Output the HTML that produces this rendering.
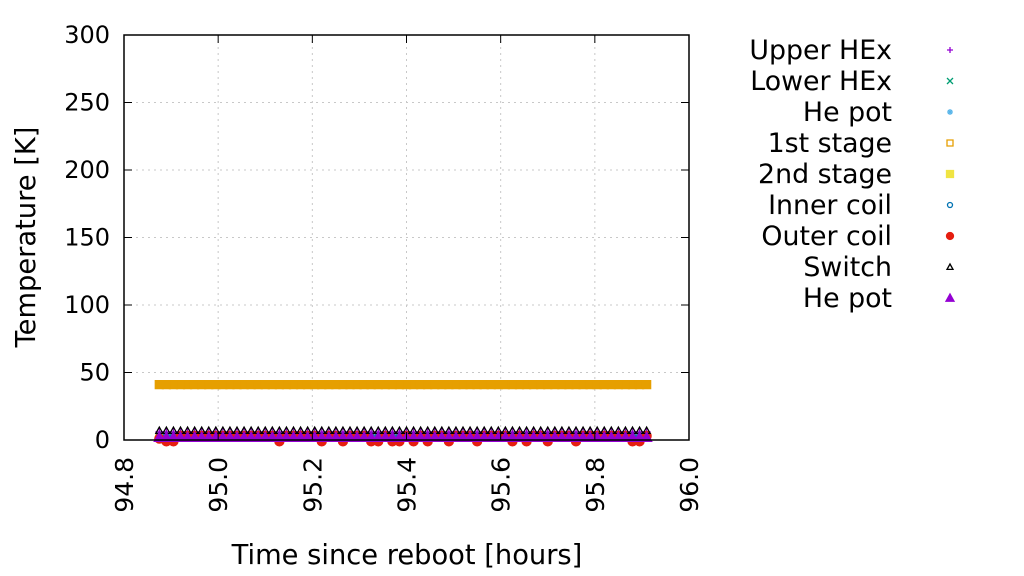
<!DOCTYPE html>
<html><head><meta charset="utf-8"><style>
html,body{margin:0;padding:0;background:#fff;}
svg{display:block;font-family:"DejaVu Sans","Liberation Sans",sans-serif;}
</style></head><body>
<svg id="chart" width="1024" height="576" viewBox="0 0 1024 576"></svg>
<script>
const xTicks=[94.8,95.0,95.2,95.4,95.6,95.8,96.0];
const xTickLabels=["94.8","95.0","95.2","95.4","95.6","95.8","96.0"];
const yTicks=[0,50,100,150,200,250,300];
const yTickLabels=["0","50","100","150","200","250","300"];
const times=[94.875,94.89,94.905,94.92,94.935,94.95,94.965,94.98,94.995,95.01,95.025,95.04,95.055,95.07,95.085,95.1,95.115,95.13,95.145,95.16,95.175,95.19,95.205,95.22,95.235,95.25,95.265,95.28,95.295,95.31,95.325,95.34,95.355,95.37,95.385,95.4,95.415,95.43,95.445,95.46,95.475,95.49,95.505,95.52,95.535,95.55,95.565,95.58,95.595,95.61,95.625,95.64,95.655,95.67,95.685,95.7,95.715,95.73,95.745,95.76,95.775,95.79,95.805,95.82,95.835,95.85,95.865,95.88,95.895,95.91];
const upperHEx=[6,6,6,6,6,6,6,6,6,6,6,6,6,6,6,6,6,6,6,6,6,6,6,6,6,6,6,6,6,6,6,6,6,6,6,6,6,6,6,6,6,6,6,6,6,6,6,6,6,6,6,6,6,6,6,6,6,6,6,6,6,6,6,6,6,6,6,6,6,6];
const lowerHEx=[3,3,3,3,3,3,3,3,3,3,3,3,3,3,3,3,3,3,3,3,3,3,3,3,3,3,3,3,3,3,3,3,3,3,3,3,3,3,3,3,3,3,3,3,3,3,3,3,3,3,3,3,3,3,3,3,3,3,3,3,3,3,3,3,3,3,3,3,3,3];
const stage1=[41,41,41,41,41,41,41,41,41,41,41,41,41,41,41,41,41,41,41,41,41,41,41,41,41,41,41,41,41,41,41,41,41,41,41,41,41,41,41,41,41,41,41,41,41,41,41,41,41,41,41,41,41,41,41,41,41,41,41,41,41,41,41,41,41,41,41,41,41,41];
const outerCoil=[1,-1,-1,3,3,3,3,3,3,3,3,3,3,3,3,3,3,-1,3,3,3,3,3,-1,3,3,-1,3,3,3,-1,-1,3,-1,-1,3,-1,3,-1,3,3,-1,3,3,3,-1,3,3,3,3,-1,3,-1,3,3,-1,3,3,3,-1,3,3,3,3,3,3,3,-1,-1,3];
const switchT=[7,7,7,7,7,7,7,7,7,7,7,7,7,7,7,7,7,7,7,7,7,7,7,7,7,7,7,7,7,7,7,7,7,7,7,7,7,7,7,7,7,7,7,7,7,7,7,7,7,7,7,7,7,7,7,7,7,7,7,7,7,7,7,7,7,7,7,7,7,7];
const hePot2=[2,2,2,2,2,2,2,2,2,2,2,2,2,2,2,2,2,2,2,2,2,2,2,2,2,2,2,2,2,2,2,2,2,2,2,2,2,2,2,2,2,2,2,2,2,2,2,2,2,2,2,2,2,2,2,2,2,2,2,2,2,2,2,2,2,2,2,2,2,2];

const NS="http://www.w3.org/2000/svg";
const svg=document.getElementById('chart');
const L=124,R=689,T=35,B=440;
const xs=v=>L+(v-94.8)/(96.0-94.8)*(R-L);
const ys=v=>B-(v-0)/(300-0)*(B-T);
function mk(tag,attrs,parent){const e=document.createElementNS(NS,tag);for(const k in attrs)e.setAttribute(k,attrs[k]);(parent||svg).appendChild(e);return e;}

const grid=mk('g',{});


xTicks.forEach((t,i)=>{if(i>0&&i<xTicks.length-1)mk('line',{x1:xs(t),x2:xs(t),y1:T,y2:B,stroke:'#c8c8c8','stroke-dasharray':'2,4','stroke-width':1},grid);});
yTicks.forEach((t,i)=>{if(i>0&&i<yTicks.length-1)mk('line',{x1:L,x2:R,y1:ys(t),y2:ys(t),stroke:'#c8c8c8','stroke-dasharray':'2,4','stroke-width':1},grid);});

function markerPath(shape,x,y,s){
  switch(shape){
    case 'plus':return `M${x-s},${y}H${x+s}M${x},${y-s}V${y+s}`;
    case 'cross':return `M${x-s},${y-s}L${x+s},${y+s}M${x-s},${y+s}L${x+s},${y-s}`;
    case 'star':return `M${x-s},${y}H${x+s}M${x},${y-s}V${y+s}M${x-s*.7},${y-s*.7}L${x+s*.7},${y+s*.7}M${x-s*.7},${y+s*.7}L${x+s*.7},${y-s*.7}`;
    case 'box':return `M${x-s},${y-s}H${x+s}V${y+s}H${x-s}Z`;
    case 'tri':return `M${x},${y-s}L${x+s},${y+s*.8}L${x-s},${y+s*.8}Z`;
  }
}
function drawMarker(g,shape,x,y,s,color,fill){
  if(shape==='circle')return mk('circle',{cx:x,cy:y,r:s,fill:fill?color:'none',stroke:color,'stroke-width':1.3},g);
  return mk('path',{d:markerPath(shape,x,y,s),fill:fill?color:'none',stroke:color,'stroke-width':1.3},g);
}
const series=[
 {name:'upper-hex',label:'Upper HEx',vals:upperHEx,shape:'plus',color:'#9400d3',fill:false,s:4,ls:3},
 {name:'lower-hex',label:'Lower HEx',vals:lowerHEx,shape:'cross',color:'#009e73',fill:false,s:3.5,ls:3},
 {name:'he-pot',label:'He pot',vals:lowerHEx,shape:'star',color:'#56b4e9',fill:false,s:3.5,ls:3},
 {name:'1st-stage',label:'1st stage',vals:stage1,shape:'box',color:'#e69f00',fill:false,s:4,ls:3},
 {name:'2nd-stage',label:'2nd stage',vals:hePot2,shape:'box',color:'#f0e442',fill:true,s:3.5,ls:3.5},
 {name:'inner-coil',label:'Inner coil',vals:lowerHEx,shape:'circle',color:'#0072b2',fill:false,s:3,ls:2.5},
 {name:'outer-coil',label:'Outer coil',vals:outerCoil,shape:'circle',color:'#e51e10',fill:true,s:4.5,ls:3.5},
 {name:'switch',label:'Switch',vals:switchT,shape:'tri',color:'#000000',fill:false,s:3.5,ls:3},
 {name:'he-pot-2',label:'He pot',vals:hePot2,shape:'tri',color:'#9400d3',fill:true,s:5,ls:4}
];
series.forEach((sr,si)=>{
  const g=mk('g',{});
  
  
  times.forEach((t,i)=>{
    const m=drawMarker(g,sr.shape,xs(t),ys(sr.vals[i]),sr.s,sr.color,sr.fill||sr.name==='1st-stage');
    
    
  });
  const ly=50+si*31;
  const lt=mk('text',{x:892,y:ly+9,'text-anchor':'end','font-size':26.8,fill:'#000'});
  lt.textContent=sr.label;
  
  
  const lm=drawMarker(svg,sr.shape,950,ly,sr.ls,sr.color,sr.fill);
  
  
});

const frame=mk('rect',{x:L,y:T,width:R-L,height:B-T,fill:'none',stroke:'#000','stroke-width':1.5});



xTicks.forEach((t,i)=>{
  mk('line',{x1:xs(t),x2:xs(t),y1:B,y2:B-8,stroke:'#000'});
  mk('line',{x1:xs(t),x2:xs(t),y1:T,y2:T+8,stroke:'#000'});
  const tx=mk('text',{x:0,y:0,'font-size':25,'text-anchor':'end',transform:`translate(${xs(t)+9},457) rotate(-90)`});
  tx.textContent=xTickLabels[i];
  
  
});
yTicks.forEach((t,i)=>{
  mk('line',{x1:L,x2:L+8,y1:ys(t),y2:ys(t),stroke:'#000'});
  mk('line',{x1:R,x2:R-8,y1:ys(t),y2:ys(t),stroke:'#000'});
  const ty=mk('text',{x:110,y:ys(t)+8,'font-size':24,'text-anchor':'end'});
  ty.textContent=yTickLabels[i];
  
  
});
const xt=mk('text',{x:407,y:564,'font-size':27.3,'text-anchor':'middle'});
xt.textContent='Time since reboot [hours]';


const yt=mk('text',{x:0,y:0,'font-size':27.3,'text-anchor':'middle',transform:'translate(35,237) rotate(-90)'});
yt.textContent='Temperature [K]';


</script>
</body></html>
